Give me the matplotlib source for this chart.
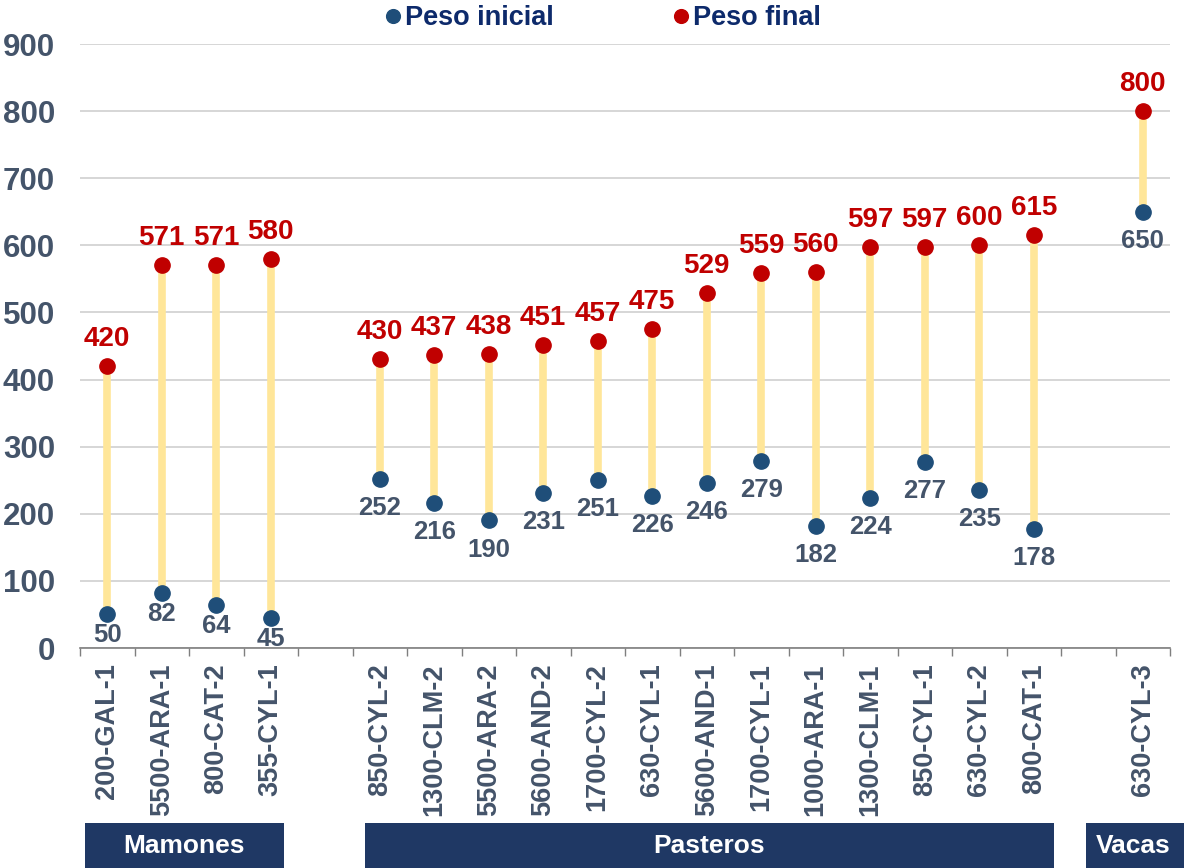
import matplotlib
matplotlib.use('Agg')
import matplotlib.pyplot as plt
import matplotlib.transforms as mtransforms
from matplotlib.patches import Rectangle
import numpy as np

plt.rcParams['font.family'] = ['Liberation Sans', 'DejaVu Sans']
plt.rcParams['font.weight'] = 'bold'

# datos
mamones = ['200-GAL-1', '5500-ARA-1', '800-CAT-2', '355-CYL-1']
mamones_ini = [50, 82, 64, 45]
mamones_fin = [420, 571, 571, 580]

pasteros = ['850-CYL-2', '1300-CLM-2', '5500-ARA-2', '5600-AND-2', '1700-CYL-2',
            '630-CYL-1', '5600-AND-1', '1700-CYL-1', '1000-ARA-1', '1300-CLM-1',
            '850-CYL-1', '630-CYL-2', '800-CAT-1']
pasteros_ini = [252, 216, 190, 231, 251, 226, 246, 279, 182, 224, 277, 235, 178]
pasteros_fin = [430, 437, 438, 451, 457, 475, 529, 559, 560, 597, 597, 600, 615]

vacas = ['630-CYL-3']
vacas_ini = [650]
vacas_fin = [800]

grupos = ['Mamones', 'Pasteros', 'Vacas']

# one empty slot between groups
labels = mamones + [''] + pasteros + [''] + vacas
ini = mamones_ini + [np.nan] + pasteros_ini + [np.nan] + vacas_ini
fin = mamones_fin + [np.nan] + pasteros_fin + [np.nan] + vacas_fin
x = np.arange(len(labels))
ini = np.array(ini, dtype=float)
fin = np.array(fin, dtype=float)
# mamones labels sit closer to the dots (near the axis)
off_ini = np.array([15] * len(mamones) + [0] + [21] * len(pasteros) + [0] + [21] * len(vacas))

c_ini = '#1F4E79'
c_fin = '#C00000'
c_txt = '#44546A'
c_box = '#1F3864'

fig = plt.figure(figsize=(11.84, 8.68), dpi=100)
ax = fig.add_axes([80/1184, 1 - 648/868, 1090/1184, 604/868])

ok = ~np.isnan(ini)
ax.vlines(x[ok], ini[ok], fin[ok], color='#FFE699', lw=5.5, zorder=2)
h1, = ax.plot(x[ok], ini[ok], 'o', color=c_ini, ms=11, zorder=3, label='Peso inicial')
h2, = ax.plot(x[ok], fin[ok], 'o', color=c_fin, ms=11, zorder=3, label='Peso final')

for xi, a, b, o in zip(x[ok], ini[ok], fin[ok], off_ini[ok]):
    ax.annotate(f'{a:.0f}', (xi, a), xytext=(0, -o), textcoords='offset points',
                ha='center', va='center', color=c_txt, fontsize=18.5, annotation_clip=False)
    ax.annotate(f'{b:.0f}', (xi, b), xytext=(0, 19.5), textcoords='offset points',
                ha='center', va='center', color=c_fin, fontsize=20, annotation_clip=False)

ax.set_xlim(-0.5, len(labels) - 0.5)
ax.set_ylim(0, 900)
ax.set_yticks(np.arange(0, 901, 100))
ax.yaxis.grid(True, color='#D0D0D0', lw=1.2)
ax.set_axisbelow(True)
ax.tick_params(axis='y', length=0, labelsize=22.5, labelcolor=c_txt, pad=18)

ax.set_xticks(x)
ax.set_xticklabels(labels, rotation=90, fontsize=19.5, color=c_txt)
ax.tick_params(axis='x', which='major', length=0, pad=11)
ax.set_xticks(np.arange(-0.5, len(labels)), minor=True)
ax.tick_params(axis='x', which='minor', length=6, width=1, color='#7F7F7F', direction='out')

for s in ['left', 'right', 'top']:
    ax.spines[s].set_visible(False)
ax.spines['bottom'].set_color('#7F7F7F')
ax.spines['bottom'].set_linewidth(1.2)

# group boxes under the axis
trans = mtransforms.blended_transform_factory(ax.transData, fig.transFigure)
cajas = [(-0.41, 3.24), (4.73, 17.37), (17.96, 19.9)]
for g, (x0, x1) in zip(grupos, cajas):
    ax.add_patch(Rectangle((x0, 0.0), x1 - x0, 45/868, transform=trans,
                           facecolor=c_box, edgecolor='none', clip_on=False))
    tx = (x0 + x1) / 2 if g != 'Vacas' else (x0 + 19.5) / 2 + 0.1
    ax.text(tx, 22/868, g, transform=trans, ha='center', va='center',
            color='white', fontsize=19)

leg = fig.legend(handles=[h1, h2], loc='center', bbox_to_anchor=(0.5 + 11/1184, 1 - 18/868),
                 ncol=2, frameon=False, fontsize=19.5, handlelength=0.6,
                 handletextpad=0.15, columnspacing=4.4, markerscale=0.9)
for t in leg.get_texts():
    t.set_color('#0D2A6B')

fig.savefig('out.png', dpi=100)
